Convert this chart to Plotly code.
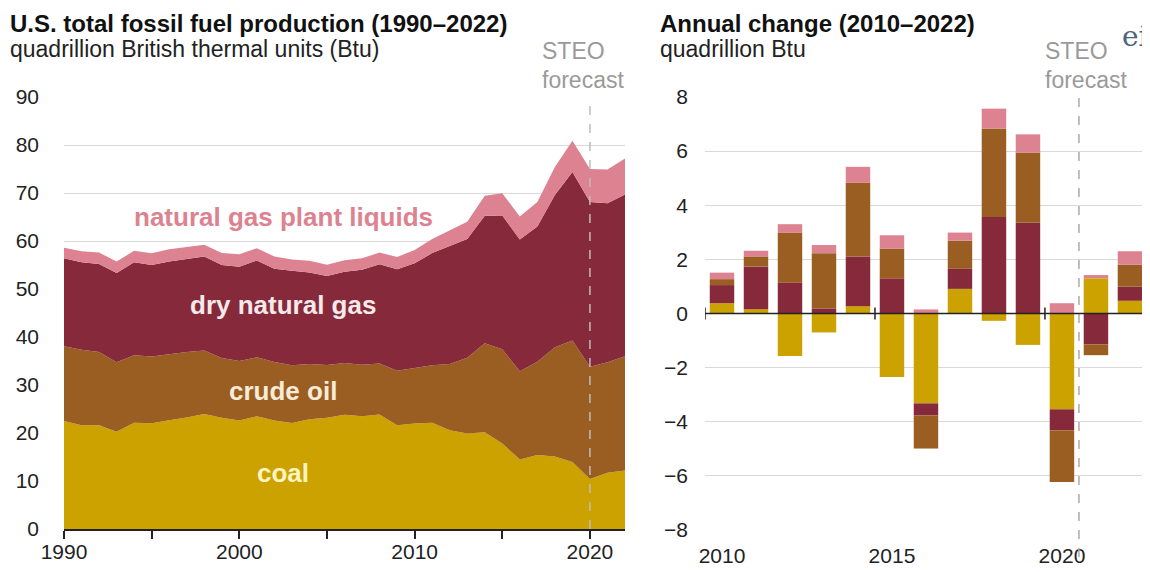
import plotly.graph_objects as go

# ---------------- data ----------------
years = list(range(1990, 2023))
coal = [22.49, 21.64, 21.63, 20.25, 22.11, 22.03, 22.68, 23.21, 23.94, 23.19,
        22.62, 23.49, 22.62, 22.09, 22.85, 23.19, 23.79, 23.49, 23.85, 21.62,
        22.00, 22.16, 20.59, 19.89, 20.16, 17.81, 14.49, 15.40, 15.13, 13.97,
        10.43, 11.73, 12.20]
crude_oil = [15.57, 15.70, 15.22, 14.49, 14.10, 13.89, 13.72, 13.66, 13.24, 12.45,
             12.36, 12.28, 12.16, 12.03, 11.50, 10.96, 10.80, 10.72, 10.61, 11.34,
             11.56, 11.93, 13.76, 15.80, 18.52, 19.62, 18.40, 19.44, 22.71, 25.31,
             23.39, 22.99, 23.80]
dry_gas = [18.33, 18.23, 18.38, 18.58, 19.35, 19.08, 19.34, 19.39, 19.61, 19.34,
           19.66, 20.17, 19.44, 19.69, 19.09, 18.56, 19.02, 19.79, 20.70, 21.14,
           21.81, 23.39, 24.54, 24.73, 26.57, 27.87, 27.42, 28.16, 31.73, 35.08,
           34.31, 33.17, 33.69]
ngpl = [2.18, 2.31, 2.36, 2.41, 2.39, 2.44, 2.53, 2.50, 2.42, 2.53,
        2.61, 2.55, 2.56, 2.35, 2.47, 2.33, 2.36, 2.41, 2.42, 2.57,
        2.74, 2.95, 3.27, 3.57, 4.16, 4.65, 4.80, 5.10, 5.83, 6.50,
        6.88, 7.00, 7.50]

chg_years = list(range(2010, 2023))
chg_coal = [0.38, 0.16, -1.57, -0.70, 0.27, -2.35, -3.32, 0.91, -0.27, -1.16, -3.54, 1.30, 0.47]
chg_gas = [0.67, 1.58, 1.15, 0.19, 1.84, 1.30, -0.45, 0.74, 3.57, 3.35, -0.77, -1.14, 0.52]
chg_oil = [0.22, 0.37, 1.83, 2.04, 2.72, 1.10, -1.22, 1.04, 3.27, 2.60, -1.92, -0.40, 0.81]
chg_ngpl = [0.24, 0.21, 0.32, 0.30, 0.59, 0.49, 0.15, 0.30, 0.73, 0.67, 0.38, 0.12, 0.50]

left_ticks = [1990, 2000, 2010, 2020]
left_minor_ticks = [1995, 2005, 2015]
right_ticks = [2010, 2015, 2020]
right_tick_marks = [2009.5, 2014.5, 2019.5]
forecast_left = 2020
forecast_right = 2020.5

# ---------------- style ----------------
C_COAL = "#CBA200"
C_OIL = "#9A5E22"
C_GAS = "#86293A"
C_NGPL = "#DC8290"
FONT = "Liberation Sans"
W, H = 1150, 572
OFF = 8  # page body margin: figure is drawn 8px right / down on screen

def px_x(p):
    """screen x pixel -> paper fraction"""
    return (p - OFF) / W

def px_y(p):
    """screen y pixel -> paper fraction"""
    return 1 - (p - OFF) / H

fig = go.Figure()

series = [("coal", coal, C_COAL), ("crude oil", crude_oil, C_OIL),
          ("dry natural gas", dry_gas, C_GAS), ("natural gas plant liquids", ngpl, C_NGPL)]
for name, vals, col in series:
    fig.add_trace(go.Scatter(x=years, y=vals, name=name, stackgroup="one",
                             mode="lines", line=dict(width=0, color=col),
                             fillcolor=col, xaxis="x", yaxis="y", showlegend=False,
                             hoverinfo="skip"))

bars = [("coal", chg_coal, C_COAL), ("dry natural gas", chg_gas, C_GAS),
        ("crude oil", chg_oil, C_OIL), ("natural gas plant liquids", chg_ngpl, C_NGPL)]
for name, vals, col in bars:
    fig.add_trace(go.Bar(x=chg_years, y=vals, name=name, marker=dict(color=col, line=dict(width=0)),
                         width=0.72, xaxis="x2", yaxis="y2", showlegend=False))

TICKF = dict(size=21, color="#222", family=FONT)
fig.update_layout(
    width=W, height=H,
    margin=dict(l=0, r=0, t=0, b=0),
    paper_bgcolor="white", plot_bgcolor="white",
    barmode="relative",
    font=dict(family=FONT, color="#222"),
    xaxis=dict(domain=[px_x(64), px_x(625)], range=[1990, 2022], automargin=False,
               tickvals=left_ticks, ticks="outside", ticklen=8, tickcolor="#222", tickwidth=1.5,
               minor=dict(tickvals=left_minor_ticks, ticks="outside", ticklen=8, tickcolor="#222", tickwidth=1.5),
               showline=True, linecolor="#222", linewidth=1.5, showgrid=False, zeroline=False,
               tickfont=TICKF, ticklabelstandoff=-5),
    yaxis=dict(domain=[px_y(529), px_y(97)], range=[0, 90], dtick=10, automargin=False,
               showgrid=True, gridcolor="#D9D9D9", gridwidth=1, zeroline=False,
               showline=False, tickfont=TICKF, ticklabelstandoff=24),
    xaxis2=dict(domain=[px_x(705), px_x(1150)], range=[2009.5, 2022.59], anchor="y2", automargin=False,
                tickvals=right_ticks, ticks="", showline=False, showgrid=False, zeroline=False,
                tickfont=TICKF, ticklabelstandoff=11),
    yaxis2=dict(domain=[px_y(530), px_y(97)], range=[-8, 8], dtick=2, anchor="x2", automargin=False,
                showgrid=True, gridcolor="#D9D9D9", gridwidth=1, zeroline=False,
                showline=False, tickfont=TICKF, ticklabelstandoff=16),
)

shapes = [
    dict(type="line", xref="x", yref="y", x0=forecast_left, x1=forecast_left, y0=0, y1=90,
         line=dict(color="#BDBDBD", width=1.5, dash="dash"), layer="above"),
    dict(type="line", xref="x2", yref="paper", x0=forecast_right, x1=forecast_right,
         y0=px_y(557), y1=px_y(95), line=dict(color="#AAAAAA", width=1.5, dash="dash"), layer="above"),
    dict(type="line", xref="x2 domain", yref="y2", x0=0, x1=1, y0=0, y1=0,
         line=dict(color="#222", width=1.5), layer="above"),
]
for tx in right_tick_marks:
    shapes.append(dict(type="line", xref="x2", yref="y2", x0=tx, x1=tx, y0=-0.22, y1=0.22,
                       line=dict(color="#222", width=1.5), layer="above"))
fig.update_layout(shapes=shapes)

ann = []
def txt(x, y, s, size, color="#222", bold=False, xanchor="left", xref="paper", yref="paper",
        yanchor="middle"):
    ann.append(dict(x=x, y=y, xref=xref, yref=yref, text=f"<b>{s}</b>" if bold else s,
                    showarrow=False, xanchor=xanchor, yanchor=yanchor,
                    font=dict(family=FONT, size=size, color=color)))

txt(px_x(8), 1.0, "U.S. total fossil fuel production (1990–2022)", 24, "#111", True, yanchor="top")
txt(px_x(8), px_y(49), "quadrillion British thermal units (Btu)", 23, "#222")
txt(px_x(658), 1.0, "Annual change (2010–2022)", 24, "#111", True, yanchor="top")
txt(px_x(658), px_y(49), "quadrillion Btu", 23, "#222")
txt(px_x(540), px_y(51), "STEO", 23, "#9A9A9A")
txt(px_x(540), px_y(80), "forecast", 23, "#9A9A9A")
txt(px_x(1043), px_y(51), "STEO", 23, "#9A9A9A")
txt(px_x(1043), px_y(80), "forecast", 23, "#9A9A9A")
txt(2002.5, 65, "natural gas plant liquids", 26, C_NGPL, True, "center", "x", "y")
txt(2002.5, 46.7, "dry natural gas", 26, "#F6E9EA", True, "center", "x", "y")
txt(2002.5, 28.8, "crude oil", 26, "#F8EBD8", True, "center", "x", "y")
txt(2002.5, 11.7, "coal", 26, "#FFF4C0", True, "center", "x", "y")
ann.append(dict(x=px_x(1150), y=px_y(36), xref="paper", yref="paper", text="ei", showarrow=False,
                xanchor="right", yanchor="middle",
                font=dict(family="DejaVu Serif", size=28, color="#4B6478")))
fig.update_layout(annotations=ann)

fig.write_html("out.html")
